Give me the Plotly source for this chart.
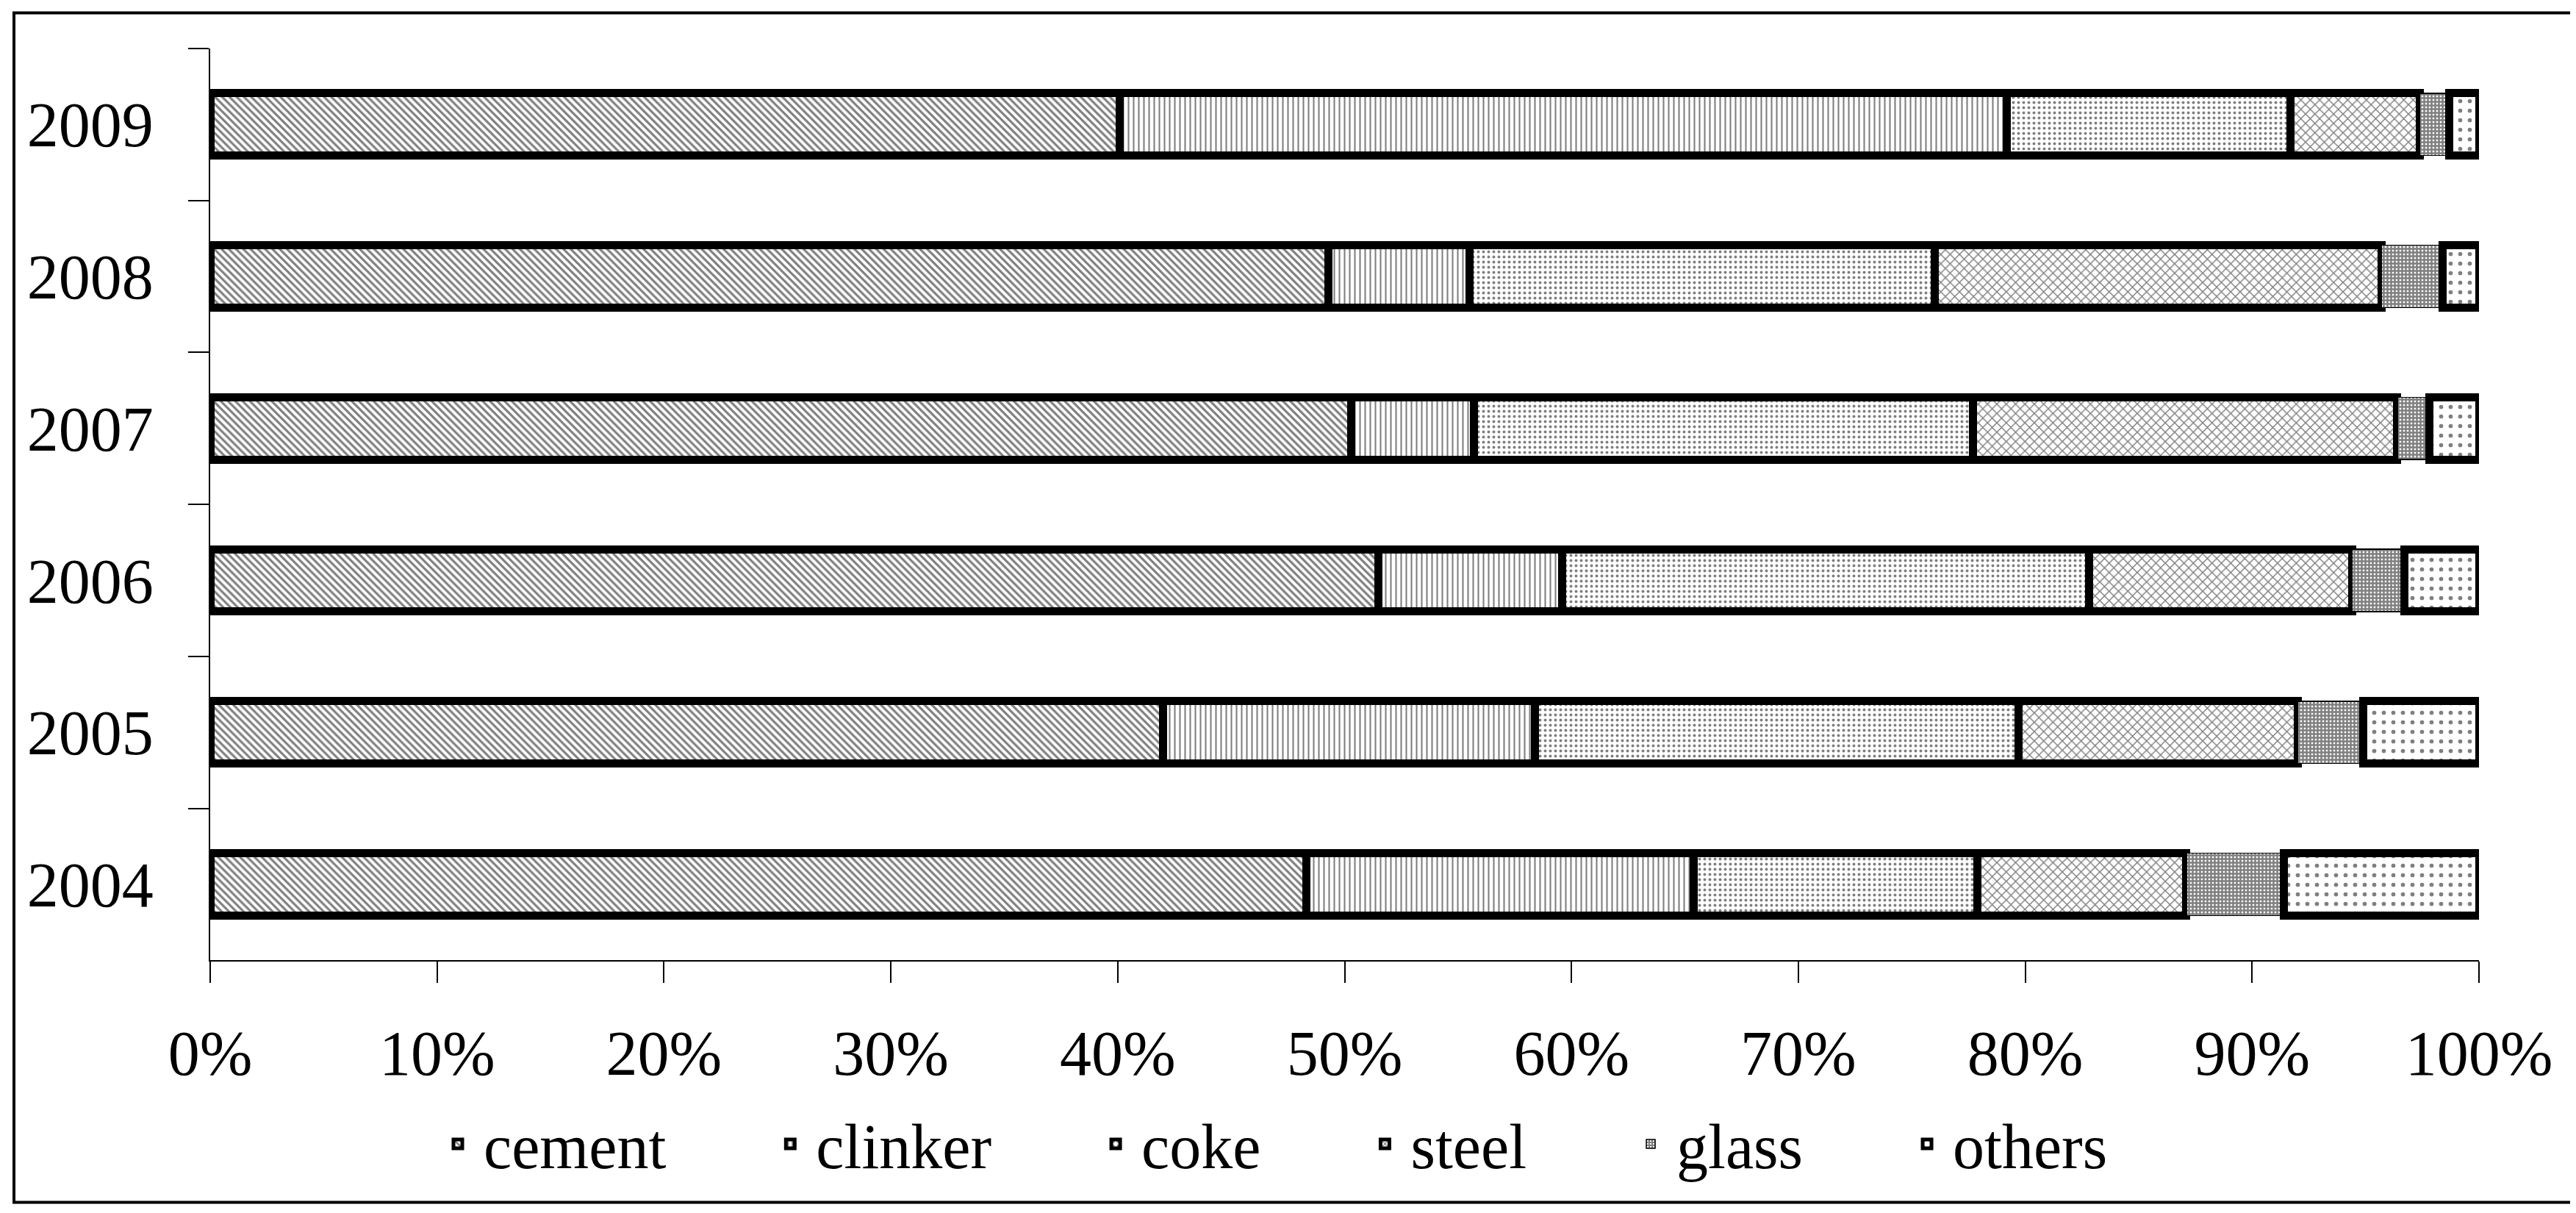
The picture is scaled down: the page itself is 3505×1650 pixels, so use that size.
import plotly.graph_objects as go

years = ["2004", "2005", "2006", "2007", "2008", "2009"]
cement = [48.3, 42.0, 51.5, 50.3, 49.3, 40.1]
clinker = [17.1, 16.4, 8.1, 5.4, 6.2, 39.1]
coke = [12.5, 21.3, 23.2, 22.0, 20.5, 12.5]
steel = [9.2, 12.3, 11.6, 18.7, 19.7, 5.7]
glass = [4.3, 2.9, 2.3, 1.4, 2.7, 1.3]
others = [8.6, 5.1, 3.3, 2.2, 1.6, 1.3]
x_ticks = [0, 10, 20, 30, 40, 50, 60, 70, 80, 90, 100]
x_tick_labels = ["0%", "10%", "20%", "30%", "40%", "50%", "60%", "70%", "80%", "90%", "100%"]

series = [
    ("cement", cement, dict(shape="\\", size=7, solidity=0.45), 11),
    ("clinker", clinker, dict(shape="|", size=7, solidity=0.3), 11),
    ("coke", coke, dict(shape=".", size=7, solidity=0.25), 11),
    ("steel", steel, dict(shape="x", size=9, solidity=0.3), 11),
    ("glass", glass, dict(shape="+", size=5, solidity=0.75), 1.5),
    ("others", others, dict(shape=".", size=13, solidity=0.15), 11),
]

FONT = "Liberation Serif"
PAD = "\u00a0" * 6
fig = go.Figure()
for i, (name, vals, pat, lw) in enumerate(series):
    pat = dict(pat, fgcolor="black", bgcolor="white", fillmode="overlay")
    label = name if i == len(series) - 1 else name + PAD
    fig.add_trace(go.Bar(
        y=years, x=vals, name=label, orientation="h",
        marker=dict(color="white", pattern=pat, line=dict(color="black", width=lw)),
    ))

W, H = 3505, 1650
L, R, T, B = 278, 140, 58, 341
pw, ph = W - L - R, H - T - B

fig.update_layout(
    width=W, height=H,
    barmode="stack", bargap=0.59,
    margin=dict(l=L, r=R, t=T, b=B, pad=0),
    paper_bgcolor="white", plot_bgcolor="white",
    font=dict(family=FONT, size=86, color="black"),
    showlegend=True,
    legend=dict(orientation="h", xref="container", x=580 / W, xanchor="left",
                yref="container", y=(H - 1548) / H, yanchor="middle",
                font=dict(family=FONT, size=86, color="black"),
                itemwidth=60, traceorder="normal", bgcolor="rgba(0,0,0,0)"),
    xaxis=dict(range=[0, 100], tickvals=x_ticks, ticktext=x_tick_labels, showgrid=False,
               zeroline=False, showline=True, linecolor="black", linewidth=2,
               ticks="outside", ticklen=29, tickwidth=2, tickcolor="black",
               ticklabelstandoff=22, tickfont=dict(family=FONT, size=86, color="black")),
    yaxis=dict(showgrid=False, zeroline=False, showline=True, linecolor="black", linewidth=2,
               ticks="outside", ticklen=28, tickwidth=2, tickcolor="black",
               tickson="boundaries", ticklabelstandoff=58,
               tickfont=dict(family=FONT, size=86, color="black")),
    shapes=[dict(type="rect", xref="paper", yref="paper",
                 x0=(11 - L) / pw, x1=(3494 - L) / pw,
                 y0=(H - B - 1641) / ph, y1=(H - B - 9) / ph,
                 line=dict(color="black", width=4), fillcolor="rgba(0,0,0,0)", layer="below")],
)

fig.write_html("out.html")
